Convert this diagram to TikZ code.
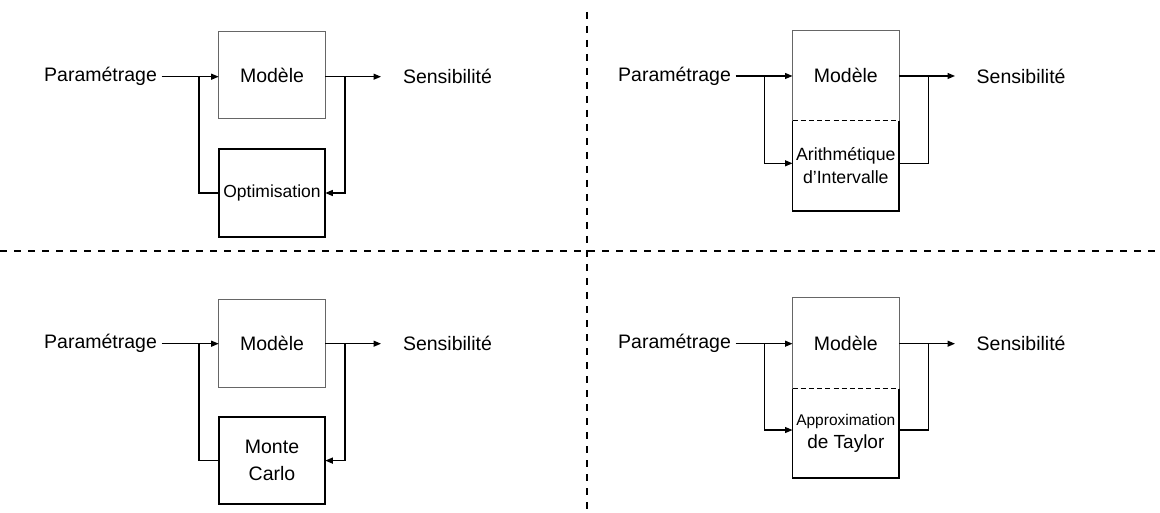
\documentclass[tikz,border=0pt]{standalone}
\usepackage{fontspec}
\setmainfont{Liberation Sans}
\usetikzlibrary{arrows.meta,calc}
\begin{document}
\begin{tikzpicture}[x=1pt,y=-1pt,
  lbl/.style={font=\fontsize{19.5}{23}\selectfont, inner sep=0pt},
  parlbl/.style={lbl, anchor=east, inner xsep=4.6pt},
  senslbl/.style={lbl, anchor=west, outer xsep=22pt},
  modbox/.style={lbl, minimum width=106.6pt, outer sep=0pt},
  thinbox/.style={draw=black!60, line width=0.9pt},
  thickbox/.style={draw=black, line width=1.8pt},
  conn/.style={draw=black, line width=1.2pt},
  arr/.style={-{Triangle[length=7.5pt,width=6pt]}},
  innerdash/.style={draw=black, line width=1.2pt, dash pattern=on 5pt off 3.2pt},
  divider/.style={draw=black, line width=1.8pt, dash pattern=on 7pt off 7pt}
]
\useasboundingbox (0,0) rectangle (1160,513);

% dividers
\draw[divider] (586.7,12) -- (586.7,509);
\draw[divider] (0,251) -- (1160,251);

% ---------- Panel A (top-left) ----------
\node[modbox, thinbox, minimum height=87.3pt] (mA) at (272,75.3) {Modèle};
\node[modbox, thickbox, minimum height=87.4pt, font=\fontsize{17.5}{21}\selectfont] (oA) at (272,193) {Optimisation};
\node[parlbl] (pA) at (161.7,76.7) {Paramétrage};
\node[senslbl] (sA) at (381,76.7) {Sensibilité};
\coordinate (jA) at (199,76.7);
\coordinate (kA) at (345,76.7);
\draw[conn,arr] (pA.east) -- (pA.east -| mA.west);
\draw[conn,arr] (pA.east -| mA.east) -- (sA.west);
\draw[conn] (jA) |- (oA.west);
\draw[conn,arr] (kA) |- (oA.east);

% ---------- Panel B (top-right) ----------
\node[modbox, minimum height=90pt] (mB) at (845.8,75.7) {Modèle};
\node[modbox, minimum height=90pt, align=center, font=\fontsize{17.7}{22.7}\selectfont] (aB) at (845.8,165.7) {Arithmétique\\d’Intervalle};
\draw[thinbox] (mB.south west) -- (mB.north west) -- (mB.north east) -- (mB.south east);
\draw[thickbox] (aB.north west) -- (aB.south west) -- (aB.south east) -- (aB.north east);
\draw[innerdash] (aB.north west) -- (aB.north east);
\node[parlbl] (pB) at (735.7,76) {Paramétrage};
\node[senslbl] (sB) at (955,76) [outer xsep=21.7pt] {Sensibilité};
\coordinate (jB) at (764.3,76);
\coordinate (kB) at (928.3,76);
\draw[conn,arr] (pB.east) -- (pB.east -| mB.west);
\draw[conn,arr] (pB.east -| mB.east) -- (sB.west);
\draw[conn,arr] (jB) |- ([yshift=2.4pt]aB.west);
\draw[conn] ([yshift=2.4pt]aB.east) -| (kB);

% ---------- Panel C (bottom-left) ----------
\node[modbox, thinbox, minimum height=87.7pt] (mC) at (272,343.2) {Modèle};
\node[modbox, thickbox, minimum height=87.3pt, align=center, font=\fontsize{19.5}{26.7}\selectfont] (oC) at (272,460.6) {Monte\\Carlo};
\node[parlbl] (pC) at (161.7,343.7) {Paramétrage};
\node[senslbl] (sC) at (381,343.7) {Sensibilité};
\coordinate (jC) at (199,343.7);
\coordinate (kC) at (345,343.7);
\draw[conn,arr] (pC.east) -- (pC.east -| mC.west);
\draw[conn,arr] (pC.east -| mC.east) -- (sC.west);
\draw[conn] (jC) |- (oC.west);
\draw[conn,arr] (kC) |- (oC.east);

% ---------- Panel D (bottom-right) ----------
\node[modbox, minimum height=91pt] (mD) at (845.8,343.2) {Modèle};
\node[modbox, minimum height=89.6pt, align=center, font=\fontsize{19}{23}\selectfont] (aD) at (845.8,433.5) {{\fontsize{15.5}{23}\selectfont Approximation}\\de Taylor};
\draw[thinbox] (mD.south west) -- (mD.north west) -- (mD.north east) -- (mD.south east);
\draw[thickbox] (aD.north west) -- (aD.south west) -- (aD.south east) -- (aD.north east);
\draw[innerdash] (aD.north west) -- (aD.north east);
\node[parlbl] (pD) at (735.7,343.7) {Paramétrage};
\node[senslbl] (sD) at (955,343.7) [outer xsep=21.7pt] {Sensibilité};
\coordinate (jD) at (764.3,343.7);
\coordinate (kD) at (928.3,343.7);
\draw[conn,arr] (pD.east) -- (pD.east -| mD.west);
\draw[conn,arr] (pD.east -| mD.east) -- (sD.west);
\draw[conn,arr] (jD) |- ([yshift=3.5pt]aD.west);
\draw[conn] ([yshift=3.5pt]aD.east) -| (kD);
\end{tikzpicture}
\end{document}
